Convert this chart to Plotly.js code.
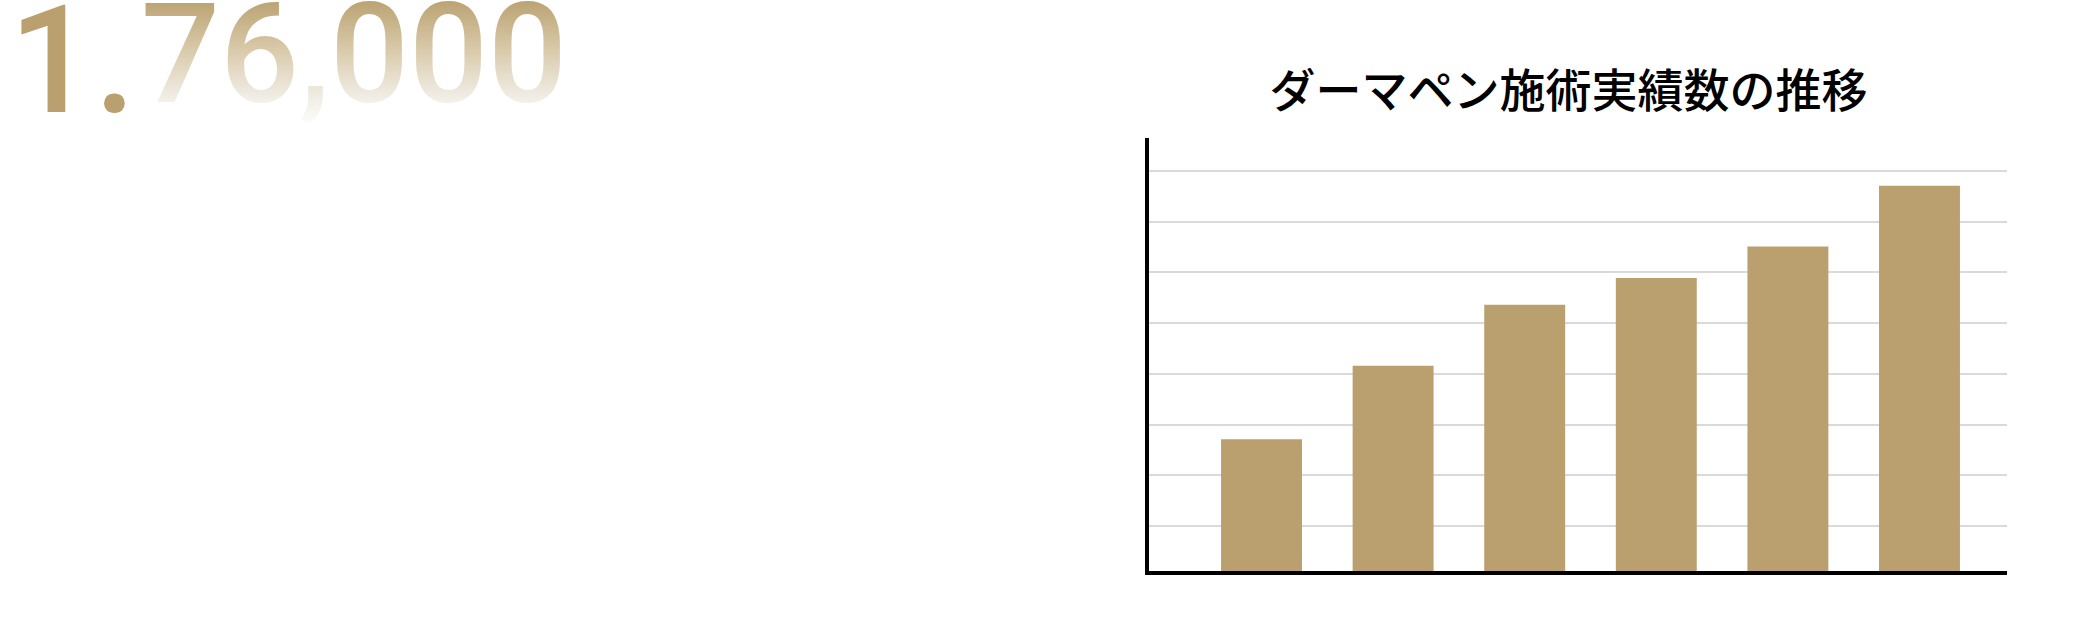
<!DOCTYPE html>
<html>
<head>
<meta charset="utf-8">
<script src="https://cdn.plot.ly/plotly-3.0.1.min.js"></script>
<style>
html,body{margin:0;padding:0;background:#fff;}
#chart{width:2076px;height:638px;}
</style>
</head>
<body>
<div id="chart"></div>
<script>
const categories = ['1', '2', '3', '4', '5', '6'];
const values = [26000, 40500, 52500, 57800, 64000, 76000];
const chartTitle = 'ダーマペン施術実績数の推移';
const bigNumberA = '1.';
const bigNumberB = '76,000';

const gold = '#ba9f6f';

const data = [{
  type: 'bar',
  x: categories,
  y: values,
  width: 0.615,
  marker: {color: gold, line: {width: 0}},
  hoverinfo: 'skip'
}];

const layout = {
  width: 2076,
  height: 638,
  paper_bgcolor: '#ffffff',
  plot_bgcolor: '#ffffff',
  margin: {l: 1149, r: 69, t: 138, b: 67, pad: 0},
  showlegend: false,
  title: {
    text: chartTitle,
    font: {family: '"Noto Sans CJK JP", sans-serif', size: 46, color: '#000000', weight: 500},
    xref: 'paper', x: 0.489, xanchor: 'center',
    yref: 'container', y: 0.858, yanchor: 'middle'
  },
  xaxis: {
    type: 'category',
    range: [-0.855, 5.665],
    showgrid: false,
    zeroline: false,
    showticklabels: false,
    ticks: '',
    showline: true,
    linecolor: '#000000',
    linewidth: 4,
    fixedrange: true
  },
  yaxis: {
    range: [0, 85400],
    tick0: 8880,
    dtick: 10000,
    showgrid: true,
    gridcolor: '#dadada',
    gridwidth: 2,
    zeroline: false,
    showticklabels: false,
    ticks: '',
    showline: true,
    linecolor: '#000000',
    linewidth: 4,
    fixedrange: true
  },
  annotations: [
    {
      text: bigNumberA,
      xref: 'paper', yref: 'paper',
      x: (7 - 1149) / 858, y: 1 + (138 + 29) / 433,
      xanchor: 'left', yanchor: 'top',
      showarrow: false,
      font: {family: 'Roboto, sans-serif', size: 150, color: gold, weight: 500}
    },
    {
      text: bigNumberB,
      xref: 'paper', yref: 'paper',
      x: (139 - 1149) / 858, y: 1 + (138 + 29) / 433,
      xanchor: 'left', yanchor: 'top',
      showarrow: false,
      font: {family: 'Roboto, sans-serif', size: 139, color: gold, weight: 500}
    }
  ]
};

Plotly.newPlot('chart', data, layout, {staticPlot: true, displayModeBar: false}).then(function(gd){
  const svg = gd.querySelector('svg.main-svg');
  const ns = 'http://www.w3.org/2000/svg';
  let defs = svg.querySelector('defs');
  if (!defs) { defs = document.createElementNS(ns, 'defs'); svg.insertBefore(defs, svg.firstChild); }
  const grad = document.createElementNS(ns, 'linearGradient');
  grad.setAttribute('id', 'numgrad');
  grad.setAttribute('x1', '0'); grad.setAttribute('y1', '0');
  grad.setAttribute('x2', '0'); grad.setAttribute('y2', '1');
  [['0.15', '#b9a06e'], ['0.45', '#d7c7a6'], ['0.75', '#f0ece3'], ['0.95', '#ffffff']].forEach(function(s){
    const st = document.createElementNS(ns, 'stop');
    st.setAttribute('offset', s[0]);
    st.setAttribute('stop-color', s[1]);
    grad.appendChild(st);
  });
  defs.appendChild(grad);
  const texts = gd.querySelectorAll('.annotation-text');
  if (texts.length > 1) {
    texts[1].style.fill = 'url(#numgrad)';
  }
});
</script>
</body>
</html>
